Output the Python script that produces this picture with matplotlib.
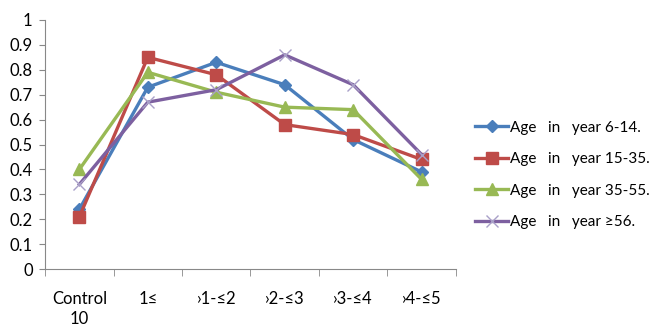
import matplotlib
matplotlib.use("Agg")
import matplotlib.pyplot as plt
import numpy as np

categories = ["Control\n10", "1≤", "›1-≤2", "›2-≤3", "›3-≤4", "›4-≤5"]
series_names = ["Age   in   year 6-14.", "Age   in   year 15-35.", "Age   in   year 35-55.", "Age   in   year ≥56."]
blue = [0.24, 0.73, 0.83, 0.74, 0.52, 0.39]
red = [0.21, 0.85, 0.78, 0.58, 0.54, 0.44]
green = [0.40, 0.79, 0.71, 0.65, 0.64, 0.36]
purple = [0.34, 0.67, 0.72, 0.86, 0.74, 0.46]
yticks = [0, 0.1, 0.2, 0.3, 0.4, 0.5, 0.6, 0.7, 0.8, 0.9, 1]

plt.rcParams['font.family'] = ['Lato', 'DejaVu Sans']

fig = plt.figure(figsize=(6.54, 3.27), dpi=100)
ax = fig.add_axes([0.069, 0.177, 0.628, 0.762])
x = np.arange(len(categories))
styles = [
    (blue, "#4A7EBB", "D", 6),
    (red, "#BE4B48", "s", 8),
    (green, "#98B954", "^", 8),
    (purple, "#7D60A0", "x", 8),
]
for (vals, col, m, ms), name in zip(styles, series_names):
    ax.plot(x, vals, color=col, lw=2.4, marker=m, markersize=ms,
            markeredgewidth=1, label=name,
            markeredgecolor=col if m != "x" else "#A9A0C8", markerfacecolor=col)

ax.set_xlim(-0.5, 5.5)
ax.set_ylim(0, 1)
ax.set_yticks(yticks)
ax.set_yticklabels([f"{v:g}" for v in yticks], fontsize=12)
ax.set_xticks(x)
ax.set_xticklabels(categories, fontsize=12, linespacing=1.3)
ax.set_xticks(np.arange(-0.5, 6, 1), minor=True)
ax.tick_params(axis='x', which='major', length=0, pad=16)
ax.tick_params(axis='x', which='minor', length=5, color="#888888")
ax.tick_params(axis='y', length=4, color="#888888", pad=5)
for s in ["top", "right"]:
    ax.spines[s].set_visible(False)
for s in ["left", "bottom"]:
    ax.spines[s].set_color("#888888")

fig.legend(loc="center left", bbox_to_anchor=(0.705, 0.465), frameon=False,
           fontsize=11, handlelength=2.2, handletextpad=0.1, labelspacing=1.15)
fig.savefig("out.png", dpi=100)
